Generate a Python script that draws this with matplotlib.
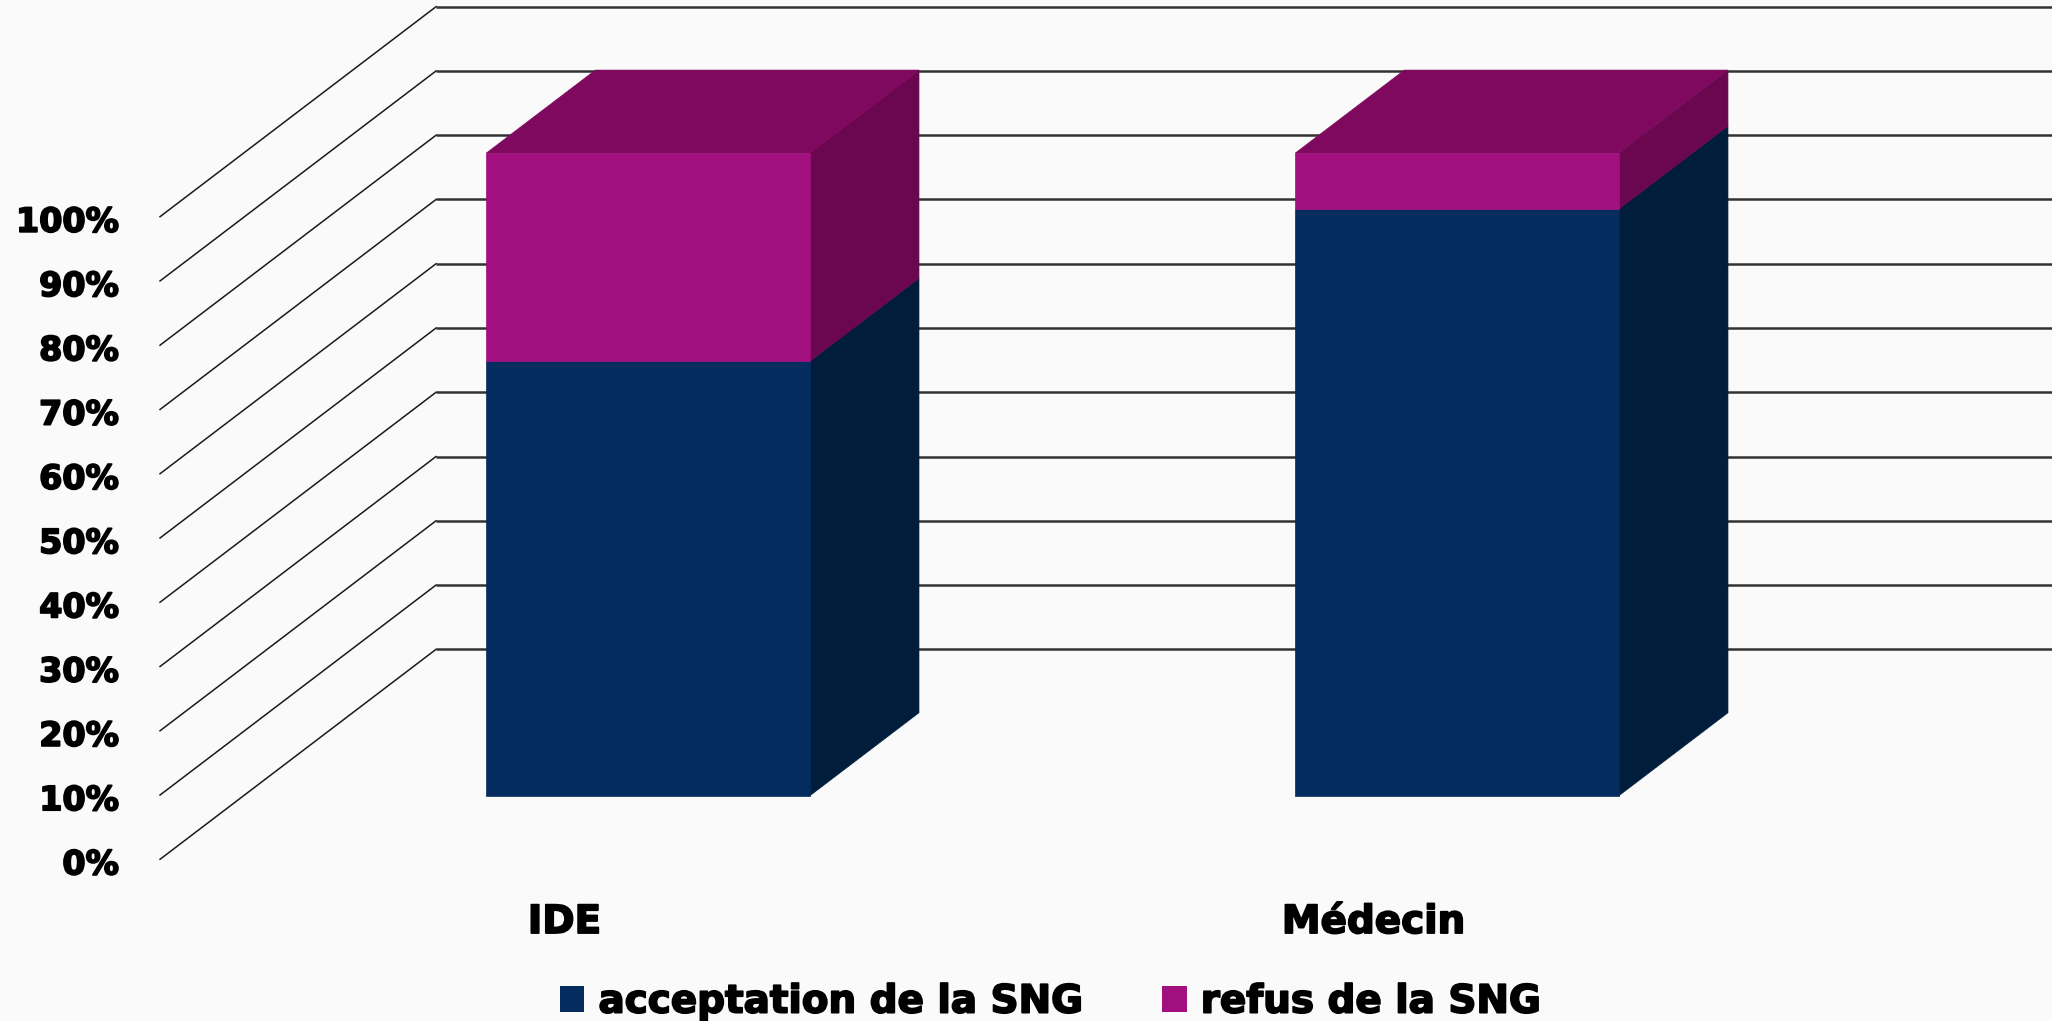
import matplotlib.pyplot as plt
import matplotlib.patheffects as pe
from matplotlib.patches import Polygon, Patch

# data
categories = ['IDE', 'Médecin']
acceptation = [67.6, 91.3]
refus = [32.4, 8.7]
series_names = ['acceptation de la SNG', 'refus de la SNG']
yticks = list(range(0, 101, 10))
ytick_labels = [f'{v}%' for v in yticks]

# colours: front, side, top for each series
front_colors = ['#052c5e', '#a20f7e']
side_colors = ['#001e3c', '#6a074e']
top_colors = ['#03244d', '#7e095e']

# oblique depth vector (in category / percent units)
DX = 0.3412
DY = 32.68
BAR_W = 0.4
D0, D1 = 0.303, 0.698

# heavier text, close to the bold font of the original
heavy = [pe.withStroke(linewidth=1.3, foreground='black')]


def proj(x, v, d):
    return (x + d * DX, v + d * DY)


fig = plt.figure(figsize=(20.52, 10.21), dpi=100)
fig.patch.set_facecolor('#fafafa')
ax = fig.add_axes([0, 0, 1, 1])
ax.set_xlim(-0.1978, 2.3387)
ax.set_ylim(-25.16, 133.72)
ax.axis('off')

n = len(categories)

# back wall gridlines and side diagonals
for v in yticks:
    x0, y0 = proj(0, v, 1)
    x1, y1 = proj(n, v, 1)
    ax.plot([x0, x1], [y0, y1], color='#333333', lw=1.8, zorder=1,
            solid_capstyle='butt')
    fx, fy = proj(0, v, 0)
    ax.plot([fx, x0], [fy, y0], color='#1a1a1a', lw=1.1, zorder=1)

# stacked 3d bars
for i in range(n):
    left = i + 0.5 - BAR_W / 2
    right = i + 0.5 + BAR_W / 2
    bottom = 0
    segs = [acceptation[i], refus[i]]
    for s, h in enumerate(segs):
        top = bottom + h
        side = [proj(right, bottom, D0), proj(right, bottom, D1),
                proj(right, top, D1), proj(right, top, D0)]
        front = [proj(left, bottom, D0), proj(right, bottom, D0),
                 proj(right, top, D0), proj(left, top, D0)]
        ax.add_patch(Polygon(side, closed=True, fc=side_colors[s],
                             ec=side_colors[s], lw=0.5, zorder=2))
        ax.add_patch(Polygon(front, closed=True, fc=front_colors[s],
                             ec=front_colors[s], lw=0.5, zorder=2))
        if s == len(segs) - 1:
            lid = [proj(left, top, D0), proj(right, top, D0),
                   proj(right, top, D1), proj(left, top, D1)]
            ax.add_patch(Polygon(lid, closed=True, fc=top_colors[s],
                                 ec=top_colors[s], lw=0.5, zorder=2))
        bottom = top

# y tick labels
for v, lab in zip(yticks, ytick_labels):
    ax.text(-0.0507, v - 2.35, lab, ha='right', va='baseline',
            fontsize=24, fontweight='bold', color='black', path_effects=heavy)

# category labels
for i, cat in enumerate(categories):
    ax.text(i + 0.5, -11.47, cat, ha='center', va='baseline',
            fontsize=28, fontweight='bold', color='black', path_effects=heavy)

# legend
handles = [Patch(facecolor=front_colors[k], edgecolor='none', label=series_names[k])
           for k in range(len(series_names))]
leg = fig.legend(handles=handles, loc='center', ncol=2, frameon=False,
                 bbox_to_anchor=(0.5117, 0.019),
                 prop={'size': 28, 'weight': 'bold'},
                 handlelength=0.64, handleheight=0.67, handletextpad=0.36,
                 columnspacing=2.05, borderpad=0, borderaxespad=0)
for t in leg.get_texts():
    t.set_path_effects(heavy)

fig.savefig('out.png', dpi=100, facecolor=fig.get_facecolor())
